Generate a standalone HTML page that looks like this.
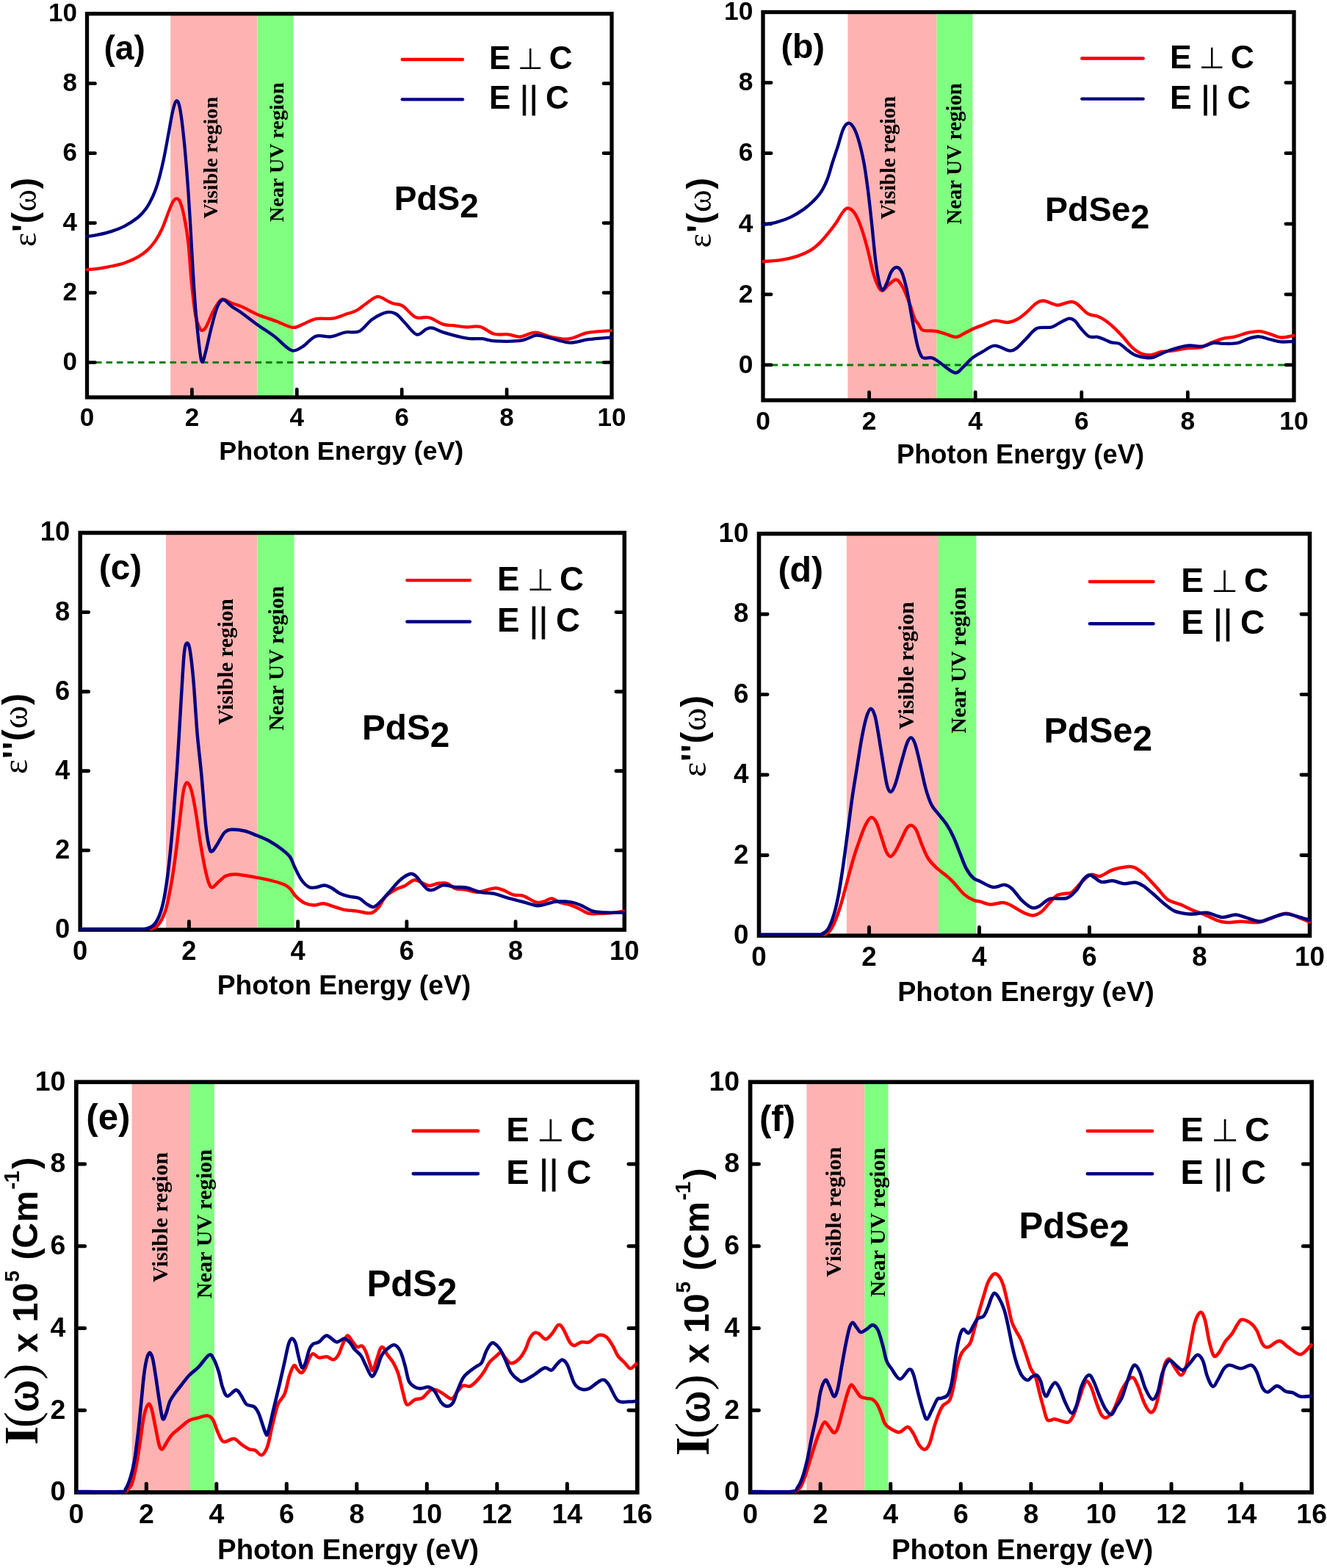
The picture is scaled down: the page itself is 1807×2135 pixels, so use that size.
<!DOCTYPE html><html><head><meta charset="utf-8"><title>Optical properties of PdS2 and PdSe2</title>
<style>html,body{margin:0;padding:0;background:#fff}svg{display:block}.t{font-family:'Liberation Sans', Arial, sans-serif;font-weight:bold;fill:#000}.s{font-family:'Liberation Serif', 'Times New Roman', serif;fill:#000}.n{font-weight:normal}</style></head><body>
<svg width="1807" height="2135" viewBox="0 0 1807 2135">
<rect width="1807" height="2135" fill="#fff"/>
<g id="panel-a"><rect x="232.2" y="18.7" width="118.2" height="522.3" fill="#FFB2B2"/><rect x="350.4" y="18.7" width="49" height="522.3" fill="#80FF80"/><text class="s" font-weight="bold" font-size="28.25" transform="translate(295.9 297.4) rotate(-90)">Visible region</text><text class="s" font-weight="bold" font-size="28.25" transform="translate(385.6 302.2) rotate(-90)">Near UV region</text><line x1="130" y1="493.52" x2="821" y2="493.52" stroke="#008000" stroke-width="3" stroke-dasharray="8.5 6"/><path d="M261.4 541V530M404.3 541V530M547.2 541V530M690.1 541V530M118.5 493.52H129.5M833 493.52H822M118.5 398.55H129.5M833 398.55H822M118.5 303.59H129.5M833 303.59H822M118.5 208.63H129.5M833 208.63H822M118.5 113.66H129.5M833 113.66H822" stroke="#000" stroke-width="4.7" stroke-linecap="round" fill="none"/><rect x="118.5" y="18.7" width="714.5" height="522.3" fill="none" stroke="#000" stroke-width="5.3"/><path d="M118.6 367.1C121.03 366.88 127.72 366.57 133.2 365.8C138.68 365.03 145.42 363.8 151.5 362.5C157.58 361.2 163.63 360.12 169.7 358C175.77 355.88 182.73 352.7 187.9 349.8C193.07 346.9 196.75 344.25 200.7 340.6C204.65 336.95 208.27 332.75 211.6 327.9C214.93 323.05 217.67 318.18 220.7 311.5C223.73 304.82 227.37 293.88 229.8 287.8C232.23 281.72 233.53 277.9 235.3 275C237.07 272.1 238.73 270.4 240.4 270.4C242.07 270.4 243.57 270.9 245.3 275C247.03 279.1 248.97 285.88 250.8 295C252.63 304.12 254.63 314.8 256.3 329.7C257.97 344.6 259.13 367.68 260.8 384.4C262.47 401.12 264.47 419.67 266.3 430C268.13 440.33 270.28 443.07 271.8 446.4C273.32 449.73 273.88 450.3 275.4 450C276.92 449.7 278.47 448.85 280.9 444.6C283.33 440.35 286.97 430.27 290 424.5C293.03 418.73 296.67 412.8 299.1 410C301.53 407.2 301.87 407.25 304.6 407.7C307.33 408.15 311.27 411 315.5 412.7C319.73 414.4 324.15 415.32 330 417.9C335.85 420.48 342.73 424.88 350.6 428.2C358.47 431.52 369.22 434.85 377.2 437.8C385.18 440.75 392.62 445.28 398.5 445.9C404.38 446.52 407.22 443.47 412.5 441.5C417.78 439.53 423.57 435.4 430.2 434.1C436.83 432.8 445.67 434.68 452.3 433.7C458.93 432.72 464.35 430.1 470 428.2C475.65 426.3 481.28 424.88 486.2 422.3C491.12 419.72 494.83 415.77 499.5 412.7C504.17 409.63 509.28 404.27 514.2 403.9C519.12 403.53 525.32 408.9 529 410.5C532.68 412.1 533.12 412.52 536.3 413.5C539.48 414.48 543.18 413.33 548.1 416.4C553.02 419.47 560.48 429.3 565.8 431.9C571.12 434.5 576.4 431.73 580 432C583.6 432.27 583.47 431.9 587.4 433.5C591.33 435.1 598.7 440 603.6 441.6C608.5 443.2 611.65 442.48 616.8 443.1C621.95 443.72 628.35 445.02 634.5 445.3C640.65 445.58 647.3 443.22 653.7 444.8C660.1 446.38 666.52 453.05 672.9 454.8C679.28 456.55 686.12 454.68 692 455.3C697.88 455.92 702.05 458.95 708.2 458.5C714.35 458.05 722.02 452.6 728.9 452.6C735.78 452.6 741.9 457.02 749.5 458.5C757.1 459.98 766.4 462.35 774.5 461.5C782.6 460.65 791.22 455.12 798.1 453.4C804.98 451.68 810.15 451.75 815.8 451.2C821.45 450.65 829.3 450.28 832 450.1" fill="none" stroke="#FF0000" stroke-width="4.3" stroke-linejoin="round" stroke-linecap="round"/><path d="M118.6 322C121.03 321.62 127.72 320.85 133.2 319.7C138.68 318.55 145.42 317.08 151.5 315.1C157.58 313.12 163.63 310.98 169.7 307.8C175.77 304.62 183.03 299.95 187.9 296C192.77 292.05 195.55 288.82 198.9 284.1C202.25 279.38 205.27 273.78 208 267.7C210.73 261.62 212.88 255.8 215.3 247.6C217.72 239.4 220.08 229.73 222.5 218.5C224.92 207.27 227.67 191.45 229.8 180.2C231.93 168.95 233.53 158.15 235.3 151C237.07 143.85 238.73 137.6 240.4 137.3C242.07 137 243.57 139.92 245.3 149.2C247.03 158.48 249.12 176.6 250.8 193C252.48 209.4 254.03 229.37 255.4 247.6C256.77 265.83 257.8 282.63 259 302.4C260.2 322.17 261.38 346.45 262.6 366.2C263.82 385.95 264.77 402.67 266.3 420.9C267.83 439.13 270.28 463.6 271.8 475.6C273.32 487.6 274.03 492.3 275.4 492.9C276.77 493.5 278.02 486.65 280 479.2C281.98 471.75 284.72 458.23 287.3 448.2C289.88 438.17 292.77 425.68 295.5 419C298.23 412.32 300.37 408.4 303.7 408.1C307.03 407.8 311.12 414.1 315.5 417.2C319.88 420.3 324.15 422.53 330 426.7C335.85 430.87 343.23 436.92 350.6 442.2C357.97 447.48 367.8 453.48 374.2 458.4C380.6 463.32 384.82 468.5 389 471.7C393.18 474.9 395.38 477.6 399.3 477.6C403.22 477.6 407.35 475.02 412.5 471.7C417.65 468.38 423.8 459.92 430.2 457.7C436.6 455.48 444.27 459.27 450.9 458.4C457.53 457.53 463.62 453.72 470 452.5C476.38 451.28 483.05 454.05 489.2 451.1C495.35 448.15 500.77 439.1 506.9 434.8C513.03 430.5 520.6 426.52 526 425.3C531.4 424.08 535.12 425.17 539.3 427.5C543.48 429.83 546.43 434.63 551.1 439.3C555.77 443.97 562.38 454.03 567.3 455.5C572.22 456.97 577.02 449.57 580.6 448.1C584.18 446.63 584.48 445.82 588.8 446.7C593.12 447.58 598.63 451.07 606.5 453.4C614.37 455.73 627.65 459.4 636 460.7C644.35 462 650.22 460.58 656.6 461.2C662.98 461.82 665.45 463.98 674.3 464.4C683.15 464.82 700.37 465 709.7 463.7C719.03 462.4 723.67 457.15 730.3 456.6C736.93 456.05 741.88 458.73 749.5 460.4C757.12 462.07 767.4 466.3 776 466.6C784.6 466.9 791.77 463.42 801.1 462.2C810.43 460.98 826.85 459.78 832 459.3" fill="none" stroke="#000080" stroke-width="4.3" stroke-linejoin="round" stroke-linecap="round"/><text class="t" font-size="35" x="118.5" y="580.2" text-anchor="middle">0</text><text class="t" font-size="35" x="261.4" y="580.2" text-anchor="middle">2</text><text class="t" font-size="35" x="404.3" y="580.2" text-anchor="middle">4</text><text class="t" font-size="35" x="547.2" y="580.2" text-anchor="middle">6</text><text class="t" font-size="35" x="690.1" y="580.2" text-anchor="middle">8</text><text class="t" font-size="35" x="833" y="580.2" text-anchor="middle">10</text><text class="t" font-size="35" x="105" y="504.12" text-anchor="end">0</text><text class="t" font-size="35" x="105" y="409.15" text-anchor="end">2</text><text class="t" font-size="35" x="105" y="314.19" text-anchor="end">4</text><text class="t" font-size="35" x="105" y="219.23" text-anchor="end">6</text><text class="t" font-size="35" x="105" y="124.26" text-anchor="end">8</text><text class="t" font-size="35" x="105" y="29.3" text-anchor="end">10</text><text class="t" font-size="35.9" x="298.3" y="625.8">Photon Energy (eV)</text><line x1="547.7" y1="81" x2="630.1" y2="81" stroke="#FF0000" stroke-width="4.3" stroke-linecap="round"/><line x1="547.7" y1="135.4" x2="630.1" y2="135.4" stroke="#000080" stroke-width="4.3" stroke-linecap="round"/><text class="t" font-size="44" y="93.9"><tspan x="666">E</tspan><tspan x="705.1" font-family="'DejaVu Sans', sans-serif" class="n" font-size="40">⊥</tspan><tspan x="747.8">C</tspan></text><text class="t" font-size="44" y="148.3"><tspan x="666">E</tspan><tspan x="708.25" class="n" stroke="#000" stroke-width="0.9">|</tspan><tspan x="720.95" class="n" stroke="#000" stroke-width="0.9">|</tspan><tspan x="743">C</tspan></text><text class="t" font-size="46" x="141.51" y="80.77">(a)</text><text class="t" font-size="46" x="536.8" y="285.8">PdS<tspan dy="10.2">2</tspan></text><text class="t" font-size="46" letter-spacing="0.75" transform="translate(48.8 336) rotate(-90)"><tspan class="s n">ε</tspan>'(<tspan class="s n">ω</tspan>)</text></g>
<g id="panel-b"><rect x="1154.4" y="16.5" width="121" height="528.5" fill="#FFB2B2"/><rect x="1275.4" y="16.5" width="48.9" height="528.5" fill="#80FF80"/><text class="s" font-weight="bold" font-size="28.59" transform="translate(1218.8 298.5) rotate(-90)">Visible region</text><text class="s" font-weight="bold" font-size="28.59" transform="translate(1309.1 305.4) rotate(-90)">Near UV region</text><line x1="1050.64" y1="496.95" x2="1749.86" y2="496.95" stroke="#008000" stroke-width="3.04" stroke-dasharray="8.6 6.07"/><path d="M1183.6 545V533.87M1328.2 545V533.87M1472.8 545V533.87M1617.4 545V533.87M1039 496.95H1050.13M1762 496.95H1750.87M1039 400.86H1050.13M1762 400.86H1750.87M1039 304.77H1050.13M1762 304.77H1750.87M1039 208.68H1050.13M1762 208.68H1750.87M1039 112.59H1050.13M1762 112.59H1750.87" stroke="#000" stroke-width="4.76" stroke-linecap="round" fill="none"/><rect x="1039" y="16.5" width="723" height="528.5" fill="none" stroke="#000" stroke-width="5.36"/><path d="M1039.6 356C1043.43 355.7 1054.92 355.38 1062.6 354.2C1070.28 353.02 1078.88 351.12 1085.7 348.9C1092.52 346.68 1098.47 343.87 1103.5 340.9C1108.53 337.93 1111.77 335.1 1115.9 331.1C1120.03 327.1 1124.45 321.63 1128.3 316.9C1132.15 312.17 1135.73 307.43 1139 302.7C1142.27 297.97 1145.3 291.7 1147.9 288.5C1150.5 285.3 1151.95 283.2 1154.6 283.5C1157.25 283.8 1160.78 285.92 1163.8 290.3C1166.82 294.68 1169.73 301.52 1172.7 309.8C1175.67 318.08 1178.93 329.93 1181.6 340C1184.27 350.07 1186.48 362.22 1188.7 370.2C1190.92 378.18 1192.83 383.62 1194.9 387.9C1196.97 392.18 1198.58 395.9 1201.1 395.9C1203.62 395.9 1206.73 390.42 1210 387.9C1213.27 385.38 1217.45 380.2 1220.7 380.8C1223.95 381.4 1226.55 386.17 1229.5 391.5C1232.45 396.83 1235.73 405.7 1238.4 412.8C1241.07 419.9 1243.57 429.5 1245.5 434.1C1247.43 438.7 1248.27 437.87 1250 440.4C1251.73 442.93 1253.45 447.63 1255.9 449.3C1258.35 450.97 1261.5 450.12 1264.7 450.4C1267.9 450.68 1271.42 450.33 1275.1 451C1278.78 451.67 1282.38 453.08 1286.8 454.4C1291.22 455.72 1297.17 459.02 1301.6 458.9C1306.03 458.78 1309.23 455.67 1313.4 453.7C1317.57 451.73 1322.43 448.95 1326.6 447.1C1330.77 445.25 1333.73 444.33 1338.4 442.6C1343.07 440.87 1348.95 437.3 1354.6 436.7C1360.25 436.1 1367.13 439.37 1372.3 439C1377.47 438.63 1381.42 436.72 1385.6 434.5C1389.78 432.28 1393.23 429.25 1397.4 425.7C1401.57 422.15 1406.67 415.9 1410.6 413.2C1414.53 410.5 1417.07 409.38 1421 409.5C1424.93 409.62 1430.77 412.92 1434.2 413.9C1437.63 414.88 1437.67 415.88 1441.6 415.4C1445.53 414.92 1453.62 411.25 1457.8 411C1461.98 410.75 1462.77 411.2 1466.7 413.9C1470.63 416.6 1476.73 424.38 1481.4 427.2C1486.07 430.02 1490.77 429.3 1494.7 430.8C1498.63 432.3 1501.07 433.45 1505 436.2C1508.93 438.95 1514.12 443.37 1518.3 447.3C1522.48 451.23 1526.18 455.5 1530.1 459.8C1534.02 464.1 1537.88 469.53 1541.8 473.1C1545.72 476.67 1549.42 479.48 1553.6 481.2C1557.78 482.92 1562.23 483.77 1566.9 483.4C1571.57 483.03 1576.68 479.98 1581.6 479C1586.52 478.02 1590.5 478.3 1596.4 477.5C1602.3 476.7 1610.62 474.93 1617 474.2C1623.38 473.47 1629.78 474.15 1634.7 473.1C1639.62 472.05 1641.58 469.87 1646.5 467.9C1651.42 465.93 1658.3 462.9 1664.2 461.3C1670.1 459.7 1675.77 459.73 1681.9 458.3C1688.03 456.87 1695.35 453.88 1701 452.7C1706.65 451.52 1711.13 450.88 1715.8 451.2C1720.47 451.52 1724.33 453.22 1729 454.6C1733.67 455.98 1738.38 459.13 1743.8 459.5C1749.22 459.87 1758.55 457.25 1761.5 456.8" fill="none" stroke="#FF0000" stroke-width="4.35" stroke-linejoin="round" stroke-linecap="round"/><path d="M1039.6 305.9C1042.55 305.37 1051.1 304.42 1057.3 302.7C1063.5 300.98 1070.58 298.57 1076.8 295.6C1083.02 292.63 1089.57 288.45 1094.6 284.9C1099.63 281.35 1103.15 278.13 1107 274.3C1110.85 270.47 1114.43 266.93 1117.7 261.9C1120.97 256.87 1123.93 250.92 1126.6 244.1C1129.27 237.28 1131.33 228.4 1133.7 221C1136.07 213.6 1138.43 207.1 1140.8 199.7C1143.17 192.3 1145.6 181.92 1147.9 176.6C1150.2 171.28 1152.23 168.38 1154.6 167.8C1156.97 167.22 1159.67 169.27 1162.1 173.1C1164.53 176.93 1166.83 182.82 1169.2 190.8C1171.57 198.78 1174.23 210.05 1176.3 221C1178.37 231.95 1179.83 242.88 1181.6 256.5C1183.37 270.12 1185.13 286.42 1186.9 302.7C1188.67 318.98 1190.42 340.28 1192.2 354.2C1193.98 368.12 1195.97 379.45 1197.6 386.2C1199.23 392.95 1200.38 394.7 1202 394.7C1203.62 394.7 1205.37 390.28 1207.3 386.2C1209.23 382.12 1211.37 373.9 1213.6 370.2C1215.83 366.5 1218.33 364 1220.7 364C1223.07 364 1225.43 365.03 1227.8 370.2C1230.17 375.37 1232.53 384.35 1234.9 395C1237.27 405.65 1239.63 421.67 1242 434.1C1244.37 446.53 1247.03 461.18 1249.1 469.6C1251.17 478.02 1252.78 481.6 1254.4 484.6C1256.02 487.6 1256.33 487.15 1258.8 487.6C1261.27 488.05 1265.75 486.32 1269.2 487.3C1272.65 488.28 1274.35 490.13 1279.5 493.5C1284.65 496.87 1294.7 506.52 1300.1 507.5C1305.5 508.48 1307.97 502.72 1311.9 499.4C1315.83 496.08 1319.28 491.05 1323.7 487.6C1328.12 484.15 1333.25 481.53 1338.4 478.7C1343.55 475.87 1348.45 470.78 1354.6 470.6C1360.75 470.42 1370.13 477.22 1375.3 477.6C1380.47 477.98 1381.92 475.65 1385.6 472.9C1389.28 470.15 1392.98 465.4 1397.4 461.1C1401.82 456.8 1406.45 449.68 1412.1 447.1C1417.75 444.52 1426.38 446.72 1431.3 445.6C1436.22 444.48 1437.67 442.37 1441.6 440.4C1445.53 438.43 1451.22 434.42 1454.9 433.8C1458.58 433.18 1461 434.62 1463.7 436.7C1466.4 438.78 1467.9 442.73 1471.1 446.3C1474.3 449.87 1478.97 456.02 1482.9 458.1C1486.83 460.18 1491.02 458.03 1494.7 458.8C1498.38 459.57 1501.82 461.43 1505 462.7C1508.18 463.97 1510.6 465.53 1513.8 466.4C1517 467.27 1520.75 466.3 1524.2 467.9C1527.65 469.5 1530.82 473.37 1534.5 476C1538.18 478.63 1541.88 481.85 1546.3 483.7C1550.72 485.55 1556.83 486.67 1561 487.1C1565.17 487.53 1566.88 487.65 1571.3 486.3C1575.72 484.95 1581.85 481.2 1587.5 479C1593.15 476.8 1599.78 474.53 1605.2 473.1C1610.62 471.67 1614.6 470.65 1620 470.4C1625.4 470.15 1632.2 472.18 1637.6 471.6C1643 471.02 1647.48 467.52 1652.4 466.9C1657.32 466.28 1661.7 467.85 1667.1 467.9C1672.5 467.95 1679.4 468.3 1684.8 467.2C1690.2 466.1 1694.58 462.78 1699.5 461.3C1704.42 459.82 1709.38 458.18 1714.3 458.3C1719.22 458.42 1724.08 460.82 1729 462C1733.92 463.18 1738.38 464.9 1743.8 465.4C1749.22 465.9 1758.55 465.07 1761.5 465" fill="none" stroke="#000080" stroke-width="4.35" stroke-linejoin="round" stroke-linecap="round"/><text class="t" font-size="35.42" x="1039" y="584.67" text-anchor="middle">0</text><text class="t" font-size="35.42" x="1183.6" y="584.67" text-anchor="middle">2</text><text class="t" font-size="35.42" x="1328.2" y="584.67" text-anchor="middle">4</text><text class="t" font-size="35.42" x="1472.8" y="584.67" text-anchor="middle">6</text><text class="t" font-size="35.42" x="1617.4" y="584.67" text-anchor="middle">8</text><text class="t" font-size="35.42" x="1762" y="584.67" text-anchor="middle">10</text><text class="t" font-size="35.42" x="1025.34" y="507.68" text-anchor="end">0</text><text class="t" font-size="35.42" x="1025.34" y="411.59" text-anchor="end">2</text><text class="t" font-size="35.42" x="1025.34" y="315.5" text-anchor="end">4</text><text class="t" font-size="35.42" x="1025.34" y="219.41" text-anchor="end">6</text><text class="t" font-size="35.42" x="1025.34" y="123.32" text-anchor="end">8</text><text class="t" font-size="35.42" x="1025.34" y="27.23" text-anchor="end">10</text><text class="t" font-size="36.33" x="1220.94" y="630.81">Photon Energy (eV)</text><line x1="1473.31" y1="79.54" x2="1556.69" y2="79.54" stroke="#FF0000" stroke-width="4.35" stroke-linecap="round"/><line x1="1473.31" y1="134.59" x2="1556.69" y2="134.59" stroke="#000080" stroke-width="4.35" stroke-linecap="round"/><text class="t" font-size="44.52" y="92.59"><tspan x="1593.01">E</tspan><tspan x="1632.58" font-family="'DejaVu Sans', sans-serif" class="n" font-size="40.48">⊥</tspan><tspan x="1675.79">C</tspan></text><text class="t" font-size="44.52" y="147.64"><tspan x="1593.01">E</tspan><tspan x="1635.77" class="n" stroke="#000" stroke-width="0.9">|</tspan><tspan x="1648.62" class="n" stroke="#000" stroke-width="0.9">|</tspan><tspan x="1670.93">C</tspan></text><text class="t" font-size="46.55" x="1063.57" y="79.48">(b)</text><text class="t" font-size="46.55" x="1422.96" y="300.8">PdSe<tspan dy="10.32">2</tspan></text><text class="t" font-size="46.55" letter-spacing="0.76" transform="translate(967.5 337.4) rotate(-90)"><tspan class="s n">ε</tspan>'(<tspan class="s n">ω</tspan>)</text></g>
<g id="panel-c"><rect x="226" y="725.5" width="124.5" height="540.5" fill="#FFB2B2"/><rect x="350.5" y="725.5" width="50" height="540.5" fill="#80FF80"/><text class="s" font-weight="bold" font-size="29.3" transform="translate(316.7 986.9) rotate(-90)">Visible region</text><text class="s" font-weight="bold" font-size="29.3" transform="translate(386.4 994.8) rotate(-90)">Near UV region</text><path d="M257.42 1266V1254.59M405.64 1266V1254.59M553.86 1266V1254.59M702.08 1266V1254.59M109.2 1157.9H120.61M850.3 1157.9H838.89M109.2 1049.8H120.61M850.3 1049.8H838.89M109.2 941.7H120.61M850.3 941.7H838.89M109.2 833.6H120.61M850.3 833.6H838.89" stroke="#000" stroke-width="4.87" stroke-linecap="round" fill="none"/><rect x="109.2" y="725.5" width="741.1" height="540.5" fill="none" stroke="#000" stroke-width="5.5"/><path d="M205.6 1265C207.23 1264.07 212.12 1263.62 215.4 1259.4C218.68 1255.18 222.35 1248.88 225.3 1239.7C228.25 1230.52 230.82 1216.75 233.1 1204.3C235.38 1191.85 237.03 1179.75 239 1165C240.97 1150.25 243.08 1130.57 244.9 1115.8C246.72 1101.03 248.25 1084.77 249.9 1076.4C251.55 1068.03 253 1065.6 254.8 1065.6C256.6 1065.6 258.73 1069.68 260.7 1076.4C262.67 1083.12 264.63 1094.42 266.6 1105.9C268.57 1117.38 270.53 1133.17 272.5 1145.3C274.47 1157.43 276.43 1169.2 278.4 1178.7C280.37 1188.2 282.5 1197.38 284.3 1202.3C286.1 1207.22 286.9 1208.53 289.2 1208.2C291.5 1207.87 294.98 1202.92 298.1 1200.3C301.22 1197.68 303.97 1194.13 307.9 1192.5C311.83 1190.87 315.13 1190.17 321.7 1190.5C328.27 1190.83 339.77 1193.18 347.3 1194.5C354.83 1195.82 360.35 1196.77 366.9 1198.4C373.45 1200.03 381.92 1202.37 386.6 1204.3C391.28 1206.23 392.3 1207.32 395 1210C397.7 1212.68 399.53 1217.15 402.8 1220.4C406.07 1223.65 410.47 1227.5 414.6 1229.5C418.73 1231.5 423.27 1232.28 427.6 1232.4C431.93 1232.52 436.25 1229.92 440.6 1230.2C444.95 1230.48 449.13 1232.7 453.7 1234.1C458.27 1235.5 462.57 1237.52 468 1238.6C473.43 1239.68 481.08 1239.83 486.3 1240.6C491.52 1241.37 495.83 1242.87 499.3 1243.2C502.77 1243.53 504.48 1243.8 507.1 1242.6C509.72 1241.4 511.95 1239.7 515 1236C518.05 1232.3 521.5 1224.52 525.4 1220.4C529.3 1216.28 534.05 1213.7 538.4 1211.3C542.75 1208.9 547.15 1208.18 551.5 1206C555.85 1203.82 560.17 1198.63 564.5 1198.2C568.83 1197.77 574.02 1202.1 577.5 1203.4C580.98 1204.7 582.13 1206.1 585.4 1206C588.67 1205.9 593.2 1203.33 597.1 1202.8C601 1202.27 604.98 1201.6 608.8 1202.8C612.62 1204 615.93 1208.58 620 1210C624.07 1211.42 628.15 1210.48 633.2 1211.3C638.25 1212.12 645.27 1214.85 650.3 1214.9C655.33 1214.95 659.25 1212.55 663.4 1211.6C667.55 1210.65 671.47 1209.1 675.2 1209.2C678.93 1209.3 681.85 1210.67 685.8 1212.2C689.75 1213.73 694.52 1217.15 698.9 1218.4C703.28 1219.65 706.83 1217.98 712.1 1219.7C717.37 1221.42 725.68 1227.42 730.5 1228.7C735.32 1229.98 737.5 1228.28 741 1227.4C744.5 1226.52 748 1223.18 751.5 1223.4C755 1223.62 757.62 1227.17 762 1228.7C766.38 1230.23 773.18 1231.07 777.8 1232.6C782.42 1234.13 785.75 1236.03 789.7 1237.9C793.65 1239.77 796.9 1242.82 801.5 1243.8C806.1 1244.78 812.48 1243.87 817.3 1243.8C822.12 1243.73 825.13 1243.9 830.4 1243.4C835.67 1242.9 845.82 1241.23 848.9 1240.8" fill="none" stroke="#FF0000" stroke-width="4.46" stroke-linejoin="round" stroke-linecap="round"/><path d="M111 1265C122.5 1265 165.22 1265.1 180 1265C194.78 1264.9 194.78 1265.33 199.7 1264.4C204.62 1263.47 206.55 1262.53 209.5 1259.4C212.45 1256.27 215.1 1251.5 217.4 1245.6C219.7 1239.7 221.33 1234.17 223.3 1224C225.27 1213.83 227.23 1201 229.2 1184.6C231.17 1168.2 233.13 1148.55 235.1 1125.6C237.07 1102.65 239.03 1076.42 241 1046.9C242.97 1017.38 245.27 974.73 246.9 948.5C248.53 922.27 249.55 901.63 250.8 889.5C252.05 877.37 253.08 876.35 254.4 875.7C255.72 875.05 257.17 876.73 258.7 885.6C260.23 894.47 261.97 910.22 263.6 928.9C265.23 947.58 266.68 976.4 268.5 997.7C270.32 1019 272.52 1035.38 274.5 1056.7C276.48 1078.02 278.6 1109.2 280.4 1125.6C282.2 1142 283.83 1149.53 285.3 1155.1C286.77 1160.67 287.4 1159.98 289.2 1159C291 1158.02 293.32 1153.45 296.1 1149.2C298.88 1144.95 302.62 1136.78 305.9 1133.5C309.18 1130.22 311.2 1129.83 315.8 1129.5C320.4 1129.17 327.93 1130.18 333.5 1131.5C339.07 1132.82 343.63 1135.1 349.2 1137.4C354.77 1139.7 361 1142.02 366.9 1145.3C372.8 1148.58 379.92 1153.5 384.6 1157.1C389.28 1160.7 392.18 1162.87 395 1166.9C397.82 1170.93 398.9 1176.08 401.5 1181.3C404.1 1186.52 407.33 1193.75 410.6 1198.2C413.87 1202.65 417.62 1206.37 421.1 1208C424.58 1209.63 428.03 1208.43 431.5 1208C434.97 1207.57 438.63 1205.28 441.9 1205.4C445.17 1205.52 447.62 1206.85 451.1 1208.7C454.58 1210.55 458.68 1214.5 462.8 1216.5C466.92 1218.5 471.45 1219.62 475.8 1220.7C480.15 1221.78 484.98 1221.32 488.9 1223C492.82 1224.68 496.05 1228.8 499.3 1230.8C502.55 1232.8 505.35 1235.43 508.4 1235C511.45 1234.57 513.9 1231.72 517.6 1228.2C521.3 1224.68 526.05 1218.9 530.6 1213.9C535.15 1208.9 540.12 1202.22 544.9 1198.2C549.68 1194.18 555.6 1190.55 559.3 1189.8C563 1189.05 564.5 1191.43 567.1 1193.7C569.7 1195.97 572.3 1200.47 574.9 1203.4C577.5 1206.33 580.08 1209.98 582.7 1211.3C585.32 1212.62 587.12 1212.28 590.6 1211.3C594.08 1210.32 598.7 1205.97 603.6 1205.4C608.5 1204.83 614.63 1207.35 620 1207.9C625.37 1208.45 630.32 1207.6 635.8 1208.7C641.28 1209.8 646.77 1213.15 652.9 1214.5C659.03 1215.85 666.47 1215.53 672.6 1216.8C678.73 1218.07 683.12 1220.23 689.7 1222.1C696.28 1223.97 705.08 1226.13 712.1 1228C719.12 1229.87 726.32 1232.87 731.8 1233.3C737.28 1233.73 740.62 1231.58 745 1230.6C749.38 1229.62 752.63 1227.77 758.1 1227.4C763.57 1227.03 772.32 1227.53 777.8 1228.4C783.28 1229.27 786.17 1230.58 791 1232.6C795.83 1234.62 801.32 1238.85 806.8 1240.5C812.28 1242.15 816.88 1242.17 823.9 1242.5C830.92 1242.83 844.73 1242.5 848.9 1242.5" fill="none" stroke="#000080" stroke-width="4.46" stroke-linejoin="round" stroke-linecap="round"/><text class="t" font-size="36.3" x="109.2" y="1306.66" text-anchor="middle">0</text><text class="t" font-size="36.3" x="257.42" y="1306.66" text-anchor="middle">2</text><text class="t" font-size="36.3" x="405.64" y="1306.66" text-anchor="middle">4</text><text class="t" font-size="36.3" x="553.86" y="1306.66" text-anchor="middle">6</text><text class="t" font-size="36.3" x="702.08" y="1306.66" text-anchor="middle">8</text><text class="t" font-size="36.3" x="850.3" y="1306.66" text-anchor="middle">10</text><text class="t" font-size="36.3" x="95.2" y="1276.99" text-anchor="end">0</text><text class="t" font-size="36.3" x="95.2" y="1168.89" text-anchor="end">2</text><text class="t" font-size="36.3" x="95.2" y="1060.79" text-anchor="end">4</text><text class="t" font-size="36.3" x="95.2" y="952.69" text-anchor="end">6</text><text class="t" font-size="36.3" x="95.2" y="844.59" text-anchor="end">8</text><text class="t" font-size="36.3" x="95.2" y="736.49" text-anchor="end">10</text><text class="t" font-size="37.24" x="295.69" y="1353.96">Photon Energy (eV)</text><line x1="554.38" y1="790.12" x2="639.85" y2="790.12" stroke="#FF0000" stroke-width="4.46" stroke-linecap="round"/><line x1="554.38" y1="846.54" x2="639.85" y2="846.54" stroke="#000080" stroke-width="4.46" stroke-linecap="round"/><text class="t" font-size="45.64" y="803.5"><tspan x="677.08">E</tspan><tspan x="717.64" font-family="'DejaVu Sans', sans-serif" class="n" font-size="41.49">⊥</tspan><tspan x="761.93">C</tspan></text><text class="t" font-size="45.64" y="859.92"><tspan x="677.08">E</tspan><tspan x="720.91" class="n" stroke="#000" stroke-width="0.9">|</tspan><tspan x="734.08" class="n" stroke="#000" stroke-width="0.9">|</tspan><tspan x="756.95">C</tspan></text><text class="t" font-size="47.71" x="134.8" y="789.45">(c)</text><text class="t" font-size="47.71" x="492.98" y="1006.9">PdS<tspan dy="10.58">2</tspan></text><text class="t" font-size="47.71" letter-spacing="0.78" transform="translate(37.3 1054) rotate(-90)"><tspan class="s n">ε</tspan>''(<tspan class="s n">ω</tspan>)</text></g>
<g id="panel-d"><rect x="1152.9" y="726.7" width="125" height="547.3" fill="#FFB2B2"/><rect x="1277.9" y="726.7" width="51.5" height="547.3" fill="#80FF80"/><text class="s" font-weight="bold" font-size="29.65" transform="translate(1243.8 993.3) rotate(-90)">Visible region</text><text class="s" font-weight="bold" font-size="29.65" transform="translate(1314.5 998.5) rotate(-90)">Near UV region</text><path d="M1183.5 1274V1262.45M1333.5 1274V1262.45M1483.5 1274V1262.45M1633.5 1274V1262.45M1033.5 1164.54H1045.05M1783.5 1164.54H1771.95M1033.5 1055.08H1045.05M1783.5 1055.08H1771.95M1033.5 945.62H1045.05M1783.5 945.62H1771.95M1033.5 836.16H1045.05M1783.5 836.16H1771.95" stroke="#000" stroke-width="4.93" stroke-linecap="round" fill="none"/><rect x="1033.5" y="726.7" width="750" height="547.3" fill="none" stroke="#000" stroke-width="5.56"/><path d="M1122.7 1272.5C1124.02 1271.53 1127.97 1270.3 1130.6 1266.7C1133.23 1263.1 1135.87 1257.5 1138.5 1250.9C1141.13 1244.3 1143.75 1236.08 1146.4 1227.1C1149.05 1218.12 1151.75 1206.77 1154.4 1197C1157.05 1187.23 1159.67 1177.2 1162.3 1168.5C1164.93 1159.8 1167.57 1152.18 1170.2 1144.8C1172.83 1137.42 1175.47 1129.48 1178.1 1124.2C1180.73 1118.92 1183.48 1113.9 1186 1113.1C1188.52 1112.3 1190.82 1114.92 1193.2 1119.4C1195.58 1123.88 1198.07 1133.4 1200.3 1140C1202.53 1146.6 1204.55 1154.63 1206.6 1159C1208.65 1163.37 1210.48 1166.2 1212.6 1166.2C1214.72 1166.2 1216.87 1162.83 1219.3 1159C1221.73 1155.17 1224.57 1148.47 1227.2 1143.2C1229.83 1137.93 1232.77 1130.62 1235.1 1127.4C1237.43 1124.18 1239.08 1123.38 1241.2 1123.9C1243.32 1124.42 1245.38 1125.97 1247.8 1130.5C1250.22 1135.03 1253.05 1144.77 1255.7 1151.1C1258.35 1157.43 1260.53 1163.48 1263.7 1168.5C1266.87 1173.52 1270.22 1176.97 1274.7 1181.2C1279.18 1185.43 1286.37 1190.2 1290.6 1193.9C1294.83 1197.6 1296.4 1199.45 1300.1 1203.4C1303.8 1207.35 1308.58 1213.92 1312.8 1217.6C1317.02 1221.28 1321.7 1223.83 1325.4 1225.5C1329.1 1227.17 1331.23 1226.6 1335 1227.6C1338.77 1228.6 1342.78 1231.28 1348 1231.5C1353.22 1231.72 1361.3 1228.58 1366.3 1228.9C1371.3 1229.22 1373.43 1231.12 1378 1233.4C1382.57 1235.68 1388.92 1240.42 1393.7 1242.6C1398.48 1244.78 1402.58 1246.72 1406.7 1246.5C1410.82 1246.28 1414.7 1244.13 1418.4 1241.3C1422.1 1238.47 1425.42 1233.2 1428.9 1229.5C1432.38 1225.8 1435.4 1221.27 1439.3 1219.1C1443.2 1216.93 1448.82 1217.27 1452.3 1216.5C1455.78 1215.73 1456.93 1216.88 1460.2 1214.5C1463.47 1212.12 1467.78 1206.1 1471.9 1202.2C1476.02 1198.3 1480.55 1192.63 1484.9 1191.1C1489.25 1189.57 1493 1194.1 1498 1193C1503 1191.9 1508.38 1186.67 1514.9 1184.5C1521.42 1182.33 1531.88 1180.43 1537.1 1180C1542.32 1179.57 1542.95 1180.38 1546.2 1181.9C1549.45 1183.42 1554.3 1187.38 1556.6 1189.1C1558.9 1190.82 1556.83 1188.87 1560 1192.2C1563.17 1195.53 1570.6 1203.67 1575.6 1209.1C1580.6 1214.53 1584.57 1221 1590 1224.8C1595.43 1228.6 1602.33 1229.4 1608.2 1231.9C1614.07 1234.4 1619.77 1237.52 1625.2 1239.8C1630.63 1242.08 1635.37 1243.33 1640.8 1245.6C1646.23 1247.87 1652.8 1251.67 1657.8 1253.4C1662.8 1255.13 1665.37 1255.78 1670.8 1256C1676.23 1256.22 1683.23 1254.7 1690.4 1254.7C1697.57 1254.7 1707.28 1256.65 1713.8 1256C1720.32 1255.35 1723.4 1252.85 1729.5 1250.8C1735.6 1248.75 1744.32 1244.13 1750.4 1243.7C1756.48 1243.27 1760.57 1246.25 1766 1248.2C1771.43 1250.15 1780.17 1254.2 1783 1255.4" fill="none" stroke="#FF0000" stroke-width="4.51" stroke-linejoin="round" stroke-linecap="round"/><path d="M1036 1272.5C1048.33 1272.5 1096.08 1272.67 1110 1272.5C1123.92 1272.33 1116.6 1272.73 1119.5 1271.5C1122.4 1270.27 1124.77 1269.33 1127.4 1265.1C1130.03 1260.87 1132.92 1253.75 1135.3 1246.1C1137.68 1238.45 1139.58 1230.28 1141.7 1219.2C1143.82 1208.12 1145.88 1194.12 1148 1179.6C1150.12 1165.08 1152.28 1147.93 1154.4 1132.1C1156.52 1116.27 1158.6 1099.12 1160.7 1084.6C1162.8 1070.08 1164.88 1058.2 1167 1045C1169.12 1031.8 1171.28 1016.75 1173.4 1005.4C1175.52 994.05 1177.65 983.63 1179.7 976.9C1181.75 970.17 1183.72 965.27 1185.7 965C1187.68 964.73 1189.7 968.57 1191.6 975.3C1193.5 982.03 1195.12 993.78 1197.1 1005.4C1199.08 1017.02 1201.65 1034.18 1203.5 1045C1205.35 1055.82 1206.62 1064.75 1208.2 1070.3C1209.78 1075.85 1211.15 1078.82 1213 1078.3C1214.85 1077.78 1216.93 1073.8 1219.3 1067.2C1221.67 1060.6 1224.57 1047.93 1227.2 1038.7C1229.83 1029.47 1232.85 1017.48 1235.1 1011.8C1237.35 1006.12 1238.85 1004.35 1240.7 1004.6C1242.55 1004.85 1244.22 1007.62 1246.2 1013.3C1248.18 1018.98 1250.22 1028.67 1252.6 1038.7C1254.98 1048.73 1257.87 1064 1260.5 1073.5C1263.13 1083 1265.5 1089.88 1268.4 1095.7C1271.3 1101.52 1274.47 1103.92 1277.9 1108.4C1281.33 1112.88 1285.57 1117.33 1289 1122.6C1292.43 1127.87 1295.33 1133.13 1298.5 1140C1301.67 1146.87 1305.1 1156.67 1308 1163.8C1310.9 1170.93 1313 1177.52 1315.9 1182.8C1318.8 1188.08 1322.22 1192.6 1325.4 1195.5C1328.58 1198.4 1330.57 1198.12 1335 1200.2C1339.43 1202.28 1346.57 1207.23 1352 1208C1357.43 1208.77 1363.27 1204.47 1367.6 1204.8C1371.93 1205.13 1374.08 1206.53 1378 1210C1381.92 1213.47 1386.53 1221.27 1391.1 1225.6C1395.67 1229.93 1401.28 1234.7 1405.4 1236C1409.52 1237.3 1411.67 1235.45 1415.8 1233.4C1419.93 1231.35 1424.12 1225.43 1430.2 1223.7C1436.28 1221.97 1446.43 1224.85 1452.3 1223C1458.17 1221.15 1461.48 1216.95 1465.4 1212.6C1469.32 1208.25 1472.55 1200.38 1475.8 1196.9C1479.05 1193.42 1480.98 1191.05 1484.9 1191.7C1488.82 1192.35 1494.3 1199.53 1499.3 1200.8C1504.3 1202.07 1509.68 1198.9 1514.9 1199.3C1520.12 1199.7 1525.38 1202.83 1530.6 1203.2C1535.82 1203.57 1541.87 1201.02 1546.2 1201.5C1550.53 1201.98 1554.3 1204.93 1556.6 1206.1C1558.9 1207.27 1557.27 1206.27 1560 1208.5C1562.73 1210.73 1568.65 1215.7 1573 1219.5C1577.35 1223.3 1581.75 1227.82 1586.1 1231.3C1590.45 1234.78 1594.75 1238.33 1599.1 1240.4C1603.45 1242.47 1607.85 1243 1612.2 1243.7C1616.55 1244.4 1620 1244.75 1625.2 1244.6C1630.4 1244.45 1636.88 1242.08 1643.4 1242.8C1649.92 1243.52 1657.77 1248.43 1664.3 1248.9C1670.83 1249.37 1676.52 1245.28 1682.6 1245.6C1688.68 1245.92 1695.15 1249.32 1700.8 1250.8C1706.45 1252.28 1711.28 1254.72 1716.5 1254.5C1721.72 1254.28 1726.45 1251.2 1732.1 1249.5C1737.75 1247.8 1744.75 1244.62 1750.4 1244.3C1756.05 1243.98 1760.57 1246.18 1766 1247.6C1771.43 1249.02 1780.17 1251.93 1783 1252.8" fill="none" stroke="#000080" stroke-width="4.51" stroke-linejoin="round" stroke-linecap="round"/><text class="t" font-size="36.74" x="1033.5" y="1315.15" text-anchor="middle">0</text><text class="t" font-size="36.74" x="1183.5" y="1315.15" text-anchor="middle">2</text><text class="t" font-size="36.74" x="1333.5" y="1315.15" text-anchor="middle">4</text><text class="t" font-size="36.74" x="1483.5" y="1315.15" text-anchor="middle">6</text><text class="t" font-size="36.74" x="1633.5" y="1315.15" text-anchor="middle">8</text><text class="t" font-size="36.74" x="1783.5" y="1315.15" text-anchor="middle">10</text><text class="t" font-size="36.74" x="1019.33" y="1285.13" text-anchor="end">0</text><text class="t" font-size="36.74" x="1019.33" y="1175.67" text-anchor="end">2</text><text class="t" font-size="36.74" x="1019.33" y="1066.21" text-anchor="end">4</text><text class="t" font-size="36.74" x="1019.33" y="956.75" text-anchor="end">6</text><text class="t" font-size="36.74" x="1019.33" y="847.29" text-anchor="end">8</text><text class="t" font-size="36.74" x="1019.33" y="737.83" text-anchor="end">10</text><text class="t" font-size="37.68" x="1222.23" y="1363.01">Photon Energy (eV)</text><line x1="1484.02" y1="792.1" x2="1570.52" y2="792.1" stroke="#FF0000" stroke-width="4.51" stroke-linecap="round"/><line x1="1484.02" y1="849.2" x2="1570.52" y2="849.2" stroke="#000080" stroke-width="4.51" stroke-linecap="round"/><text class="t" font-size="46.19" y="805.64"><tspan x="1608.2">E</tspan><tspan x="1649.25" font-family="'DejaVu Sans', sans-serif" class="n" font-size="41.99">⊥</tspan><tspan x="1694.07">C</tspan></text><text class="t" font-size="46.19" y="862.74"><tspan x="1608.2">E</tspan><tspan x="1652.55" class="n" stroke="#000" stroke-width="0.9">|</tspan><tspan x="1665.88" class="n" stroke="#000" stroke-width="0.9">|</tspan><tspan x="1689.03">C</tspan></text><text class="t" font-size="48.29" x="1059.46" y="792.27">(d)</text><text class="t" font-size="48.29" x="1421.54" y="1011.1">PdSe<tspan dy="10.71">2</tspan></text><text class="t" font-size="48.29" letter-spacing="0.79" transform="translate(960.9 1058) rotate(-90)"><tspan class="s n">ε</tspan>''(<tspan class="s n">ω</tspan>)</text></g>
<g id="panel-e"><rect x="179.6" y="1473.3" width="79.6" height="558.7" fill="#FFB2B2"/><rect x="259.2" y="1473.3" width="32.6" height="558.7" fill="#80FF80"/><text class="s" font-weight="bold" font-size="30.21" transform="translate(228 1745.9) rotate(-90)">Visible region</text><text class="s" font-weight="bold" font-size="30.21" transform="translate(287.6 1768) rotate(-90)">Near UV region</text><path d="M199.3 2032V2020.24M294.8 2032V2020.24M390.3 2032V2020.24M485.8 2032V2020.24M581.3 2032V2020.24M676.8 2032V2020.24M772.3 2032V2020.24M103.8 1920.26H115.56M867.8 1920.26H856.04M103.8 1808.52H115.56M867.8 1808.52H856.04M103.8 1696.78H115.56M867.8 1696.78H856.04M103.8 1585.04H115.56M867.8 1585.04H856.04" stroke="#000" stroke-width="5.03" stroke-linecap="round" fill="none"/><rect x="103.8" y="1473.3" width="764" height="558.7" fill="none" stroke="#000" stroke-width="5.67"/><path d="M171.3 2031C172.6 2029.43 176.72 2027.5 179.1 2021.6C181.48 2015.7 183.65 2005.37 185.6 1995.6C187.55 1985.83 189.05 1974.3 190.8 1963C192.55 1951.7 194.25 1936.28 196.1 1927.8C197.95 1919.32 200.17 1913.63 201.9 1912.1C203.63 1910.57 204.87 1913.38 206.5 1918.6C208.13 1923.82 209.97 1935.13 211.7 1943.4C213.43 1951.67 215.38 1963.2 216.9 1968.2C218.42 1973.2 219.28 1973.83 220.8 1973.4C222.32 1972.97 223.82 1968.87 226 1965.6C228.18 1962.33 230.85 1957.28 233.9 1953.8C236.95 1950.32 240.4 1947.95 244.3 1944.7C248.2 1941.45 252.95 1936.68 257.3 1934.3C261.65 1931.92 266.27 1931.53 270.4 1930.4C274.53 1929.27 278.85 1927.07 282.1 1927.5C285.35 1927.93 287.5 1929.27 289.9 1933C292.3 1936.73 294.1 1944.9 296.5 1949.9C298.9 1954.9 300.62 1961.47 304.3 1963C307.98 1964.53 314.48 1958.45 318.6 1959.1C322.72 1959.75 325.52 1964.52 329 1966.9C332.48 1969.28 336.45 1972.1 339.5 1973.4C342.55 1974.7 344.48 1973.4 347.3 1974.7C350.12 1976 353.58 1982.07 356.4 1981.2C359.22 1980.33 361.88 1975.83 364.2 1969.5C366.52 1963.17 367.95 1952.68 370.3 1943.2C372.65 1933.72 375.42 1920.15 378.3 1912.6C381.18 1905.05 384.93 1904.57 387.6 1897.9C390.27 1891.23 392.18 1879.03 394.3 1872.6C396.42 1866.17 398.52 1860.63 400.3 1859.3C402.08 1857.97 403.33 1862.93 405 1864.6C406.67 1866.27 408.53 1869.52 410.3 1869.3C412.07 1869.08 413.82 1866.52 415.6 1863.3C417.38 1860.08 419.22 1853.33 421 1850C422.78 1846.67 424.08 1843.53 426.3 1843.3C428.52 1843.07 431.2 1847.93 434.3 1848.6C437.4 1849.27 441.57 1846.85 444.9 1847.3C448.23 1847.75 451.63 1851.75 454.3 1851.3C456.97 1850.85 458.9 1847.93 460.9 1844.6C462.9 1841.27 464.3 1835.63 466.3 1831.3C468.3 1826.97 470.68 1819.48 472.9 1818.6C475.12 1817.72 477.38 1823.43 479.6 1826C481.82 1828.57 483.98 1832.9 486.2 1834C488.42 1835.1 490.9 1831.5 492.9 1832.6C494.9 1833.7 496.42 1836.6 498.2 1840.6C499.98 1844.6 502.03 1852.37 503.6 1856.6C505.17 1860.83 506.05 1866.88 507.6 1866C509.15 1865.12 511.13 1856.3 512.9 1851.3C514.67 1846.3 516.65 1838.67 518.2 1836C519.75 1833.33 520.65 1833.87 522.2 1835.3C523.75 1836.73 525.28 1841.27 527.5 1844.6C529.72 1847.93 533.05 1851.07 535.5 1855.3C537.95 1859.53 539.97 1863.12 542.2 1870C544.43 1876.88 546.9 1889.5 548.9 1896.6C550.9 1903.7 551.55 1911.05 554.2 1912.6C556.85 1914.15 561.25 1907.45 564.8 1905.9C568.35 1904.35 571.93 1905.52 575.5 1903.3C579.07 1901.08 582.95 1894.33 586.2 1892.6C589.45 1890.87 591.97 1891.93 595 1892.9C598.03 1893.87 601.02 1896.45 604.4 1898.4C607.78 1900.35 612.18 1905.25 615.3 1904.6C618.42 1903.95 620.5 1897.48 623.1 1894.5C625.7 1891.52 628.05 1887.87 630.9 1886.7C633.75 1885.53 637.08 1888.67 640.2 1887.5C643.32 1886.33 646.48 1882.95 649.6 1879.7C652.72 1876.45 656.05 1872.17 658.9 1868C661.75 1863.83 663.83 1858.35 666.7 1854.7C669.57 1851.05 673.5 1848.3 676.1 1846.1C678.7 1843.9 680.23 1840.97 682.3 1841.5C684.37 1842.03 686.17 1846.83 688.5 1849.3C690.83 1851.77 693.18 1856.18 696.3 1856.3C699.42 1856.42 704.08 1853 707.2 1850C710.32 1847 712.65 1842.85 715 1838.3C717.35 1833.75 719.22 1826.58 721.3 1822.7C723.38 1818.82 725.43 1816.17 727.5 1815C729.57 1813.83 731.1 1814.28 733.7 1815.7C736.3 1817.12 739.98 1823.62 743.1 1823.5C746.22 1823.38 749.55 1818.25 752.4 1815C755.25 1811.75 757.85 1805.05 760.2 1804C762.55 1802.95 763.9 1804.8 766.5 1808.7C769.1 1812.6 773.2 1823.5 775.8 1827.4C778.4 1831.3 779.5 1832.1 782.1 1832.1C784.7 1832.1 788.03 1828.18 791.4 1827.4C794.77 1826.62 798.4 1828.95 802.3 1827.4C806.2 1825.85 810.9 1819.27 814.8 1818.1C818.7 1816.93 822.32 1817.8 825.7 1820.4C829.08 1823 832.5 1829.42 835.1 1833.7C837.7 1837.98 838.72 1842.47 841.3 1846.1C843.88 1849.73 847.75 1852.63 850.6 1855.5C853.45 1858.37 855.8 1863.03 858.4 1863.3C861 1863.57 864.9 1858.13 866.2 1857.1" fill="none" stroke="#FF0000" stroke-width="4.6" stroke-linejoin="round" stroke-linecap="round"/><path d="M106 2031C115.58 2031 152.62 2031.68 163.5 2031C174.38 2030.32 168.92 2030.2 171.3 2026.9C173.68 2023.6 175.85 2017.52 177.8 2011.2C179.75 2004.88 181.27 1999.22 183 1989C184.73 1978.78 186.67 1962.93 188.2 1949.9C189.73 1936.87 190.88 1923.83 192.2 1910.8C193.52 1897.77 194.8 1881.92 196.1 1871.7C197.4 1861.48 198.7 1854.5 200 1849.5C201.3 1844.5 202.6 1841.7 203.9 1841.7C205.2 1841.7 206.5 1844.5 207.8 1849.5C209.1 1854.5 210.18 1862.13 211.7 1871.7C213.22 1881.27 215.27 1896.9 216.9 1906.9C218.53 1916.9 219.98 1928.65 221.5 1931.7C223.02 1934.75 224.37 1929.12 226 1925.2C227.63 1921.28 229.33 1912.77 231.3 1908.2C233.27 1903.63 235.2 1901.5 237.8 1897.8C240.4 1894.1 243.65 1890.13 246.9 1886C250.15 1881.87 253.38 1877.12 257.3 1873C261.22 1868.88 265.83 1865.97 270.4 1861.3C274.97 1856.63 281.23 1846.75 284.7 1845C288.17 1843.25 289.02 1847 291.2 1850.8C293.38 1854.6 295.83 1861.48 297.8 1867.8C299.77 1874.12 301.05 1883.17 303 1888.7C304.95 1894.23 306.47 1900.35 309.5 1901C312.53 1901.65 318.17 1892.92 321.2 1892.6C324.23 1892.28 325.3 1895.85 327.7 1899.1C330.1 1902.35 332.55 1909.38 335.6 1912.1C338.65 1914.82 343.18 1913.22 346 1915.4C348.82 1917.58 349.9 1919.23 352.5 1925.2C355.1 1931.17 359.52 1947.08 361.6 1951.2C363.68 1955.32 363.1 1955.67 365 1949.9C366.9 1944.13 370.33 1927.7 373 1916.6C375.67 1905.5 378.57 1893.73 381 1883.3C383.43 1872.87 385.6 1862.88 387.6 1854C389.6 1845.12 391.33 1835.23 393 1830C394.67 1824.77 396.05 1822.83 397.6 1822.6C399.15 1822.37 400.85 1824.7 402.3 1828.6C403.75 1832.5 404.85 1840.43 406.3 1846C407.75 1851.57 409.45 1860.23 411 1862C412.55 1863.77 413.93 1860.6 415.6 1856.6C417.27 1852.6 419.22 1842.43 421 1838C422.78 1833.57 424.08 1831.78 426.3 1830C428.52 1828.22 431.2 1829.2 434.3 1827.3C437.4 1825.4 440.9 1818.6 444.9 1818.6C448.9 1818.6 454.3 1826.63 458.3 1827.3C462.3 1827.97 465.8 1822.38 468.9 1822.6C472 1822.82 474.68 1826.27 476.9 1828.6C479.12 1830.93 479.75 1833.7 482.2 1836.6C484.65 1839.5 488.93 1842.22 491.6 1846C494.27 1849.78 495.77 1854.63 498.2 1859.3C500.63 1863.97 503.75 1873.12 506.2 1874C508.65 1874.88 510.68 1869.27 512.9 1864.6C515.12 1859.93 517.07 1850.67 519.5 1846C521.93 1841.33 524.6 1839.05 527.5 1836.6C530.4 1834.15 534 1830.85 536.9 1831.3C539.8 1831.75 542.47 1834.63 544.9 1839.3C547.33 1843.97 549.52 1852.42 551.5 1859.3C553.48 1866.18 554.58 1875.72 556.8 1880.6C559.02 1885.48 562.13 1886.93 564.8 1888.6C567.47 1890.27 569.68 1890.6 572.8 1890.6C575.92 1890.6 580.38 1888.05 583.5 1888.6C586.62 1889.15 588.55 1890.32 591.5 1893.9C594.45 1897.48 598.28 1906.62 601.2 1910.1C604.12 1913.58 606.4 1914.8 609 1914.8C611.6 1914.8 614.45 1913.75 616.8 1910.1C619.15 1906.45 620.75 1898.62 623.1 1892.9C625.45 1887.18 628.32 1879.95 630.9 1875.8C633.48 1871.65 635.75 1870.47 638.6 1868C641.45 1865.53 645.13 1863.08 648 1861C650.87 1858.92 653.47 1859.02 655.8 1855.5C658.13 1851.98 659.92 1844.18 662 1839.9C664.08 1835.62 666.48 1831.62 668.3 1829.8C670.12 1827.98 670.83 1827.83 672.9 1829C674.97 1830.17 678.1 1832.9 680.7 1836.8C683.3 1840.7 685.9 1846.95 688.5 1852.4C691.1 1857.85 693.18 1864.95 696.3 1869.5C699.42 1874.05 704.33 1877.93 707.2 1879.7C710.07 1881.47 710.12 1881.4 713.5 1880.1C716.88 1878.8 722.83 1874.83 727.5 1871.9C732.17 1868.97 737.6 1863.55 741.5 1862.5C745.4 1861.45 748.03 1866.5 750.9 1865.6C753.77 1864.7 756.23 1859.43 758.7 1857.1C761.17 1854.77 763.37 1851.35 765.7 1851.6C768.03 1851.85 769.97 1853.27 772.7 1858.6C775.43 1863.93 778.98 1878.13 782.1 1883.6C785.22 1889.07 788.03 1890.23 791.4 1891.4C794.77 1892.57 797.62 1892.68 802.3 1890.6C806.98 1888.52 815.08 1879.82 819.5 1878.9C823.92 1877.98 825.17 1880.42 828.8 1885.1C832.43 1889.78 836.62 1903.1 841.3 1907C845.98 1910.9 852.75 1908.38 856.9 1908.5C861.05 1908.62 864.65 1907.83 866.2 1907.7" fill="none" stroke="#000080" stroke-width="4.6" stroke-linejoin="round" stroke-linecap="round"/><text class="t" font-size="37.42" x="103.8" y="2073.92" text-anchor="middle">0</text><text class="t" font-size="37.42" x="199.3" y="2073.92" text-anchor="middle">2</text><text class="t" font-size="37.42" x="294.8" y="2073.92" text-anchor="middle">4</text><text class="t" font-size="37.42" x="390.3" y="2073.92" text-anchor="middle">6</text><text class="t" font-size="37.42" x="485.8" y="2073.92" text-anchor="middle">8</text><text class="t" font-size="37.42" x="581.3" y="2073.92" text-anchor="middle">10</text><text class="t" font-size="37.42" x="676.8" y="2073.92" text-anchor="middle">12</text><text class="t" font-size="37.42" x="772.3" y="2073.92" text-anchor="middle">14</text><text class="t" font-size="37.42" x="867.8" y="2073.92" text-anchor="middle">16</text><text class="t" font-size="37.42" x="89.36" y="2043.33" text-anchor="end">0</text><text class="t" font-size="37.42" x="89.36" y="1931.59" text-anchor="end">2</text><text class="t" font-size="37.42" x="89.36" y="1819.85" text-anchor="end">4</text><text class="t" font-size="37.42" x="89.36" y="1708.11" text-anchor="end">6</text><text class="t" font-size="37.42" x="89.36" y="1596.37" text-anchor="end">8</text><text class="t" font-size="37.42" x="89.36" y="1484.63" text-anchor="end">10</text><text class="t" font-size="38.39" x="296.06" y="2122.67">Photon Energy (eV)</text><line x1="562.73" y1="1539.92" x2="650.84" y2="1539.92" stroke="#FF0000" stroke-width="4.6" stroke-linecap="round"/><line x1="562.73" y1="1598.08" x2="650.84" y2="1598.08" stroke="#000080" stroke-width="4.6" stroke-linecap="round"/><text class="t" font-size="47.05" y="1553.71"><tspan x="689.23">E</tspan><tspan x="731.04" font-family="'DejaVu Sans', sans-serif" class="n" font-size="42.77">⊥</tspan><tspan x="776.7">C</tspan></text><text class="t" font-size="47.05" y="1611.88"><tspan x="689.23">E</tspan><tspan x="734.41" class="n" stroke="#000" stroke-width="0.9">|</tspan><tspan x="747.99" class="n" stroke="#000" stroke-width="0.9">|</tspan><tspan x="771.56">C</tspan></text><text class="t" font-size="49.19" x="117.3" y="1538.44">(e)</text><text class="t" font-size="49.19" x="499.38" y="1764.7">PdS<tspan dy="10.91">2</tspan></text><text transform="translate(50.7 1966) rotate(-90)"><tspan class="s" font-weight="bold" font-size="66" x="-1.4" y="0">I</tspan><tspan class="s" font-weight="normal" font-size="66.5" x="21.7" y="0">(</tspan><tspan class="s" font-weight="normal" font-size="66.5" x="43.3" y="0" stroke="#000" stroke-width="1.3">ω</tspan><tspan class="s" font-weight="normal" font-size="66.5" x="87.3" y="0">)</tspan><tspan class="t" font-weight="bold" font-size="48.5" x="124.2" y="0">x</tspan><tspan class="t" font-weight="bold" font-size="48.5" x="165.6" y="0">10</tspan><tspan class="t" font-weight="bold" font-size="28" x="220.4" y="-24.8">5</tspan><tspan class="t" font-weight="bold" font-size="48.5" x="250.6" y="0">(</tspan><tspan class="t" font-weight="bold" font-size="48.5" x="266.3" y="0">C</tspan><tspan class="t" font-weight="bold" font-size="48.5" x="301.8" y="0">m</tspan><tspan class="t" font-weight="bold" font-size="30" x="346.2" y="-24.8">-</tspan><tspan class="t" font-weight="bold" font-size="30" x="355.6" y="-24.8">1</tspan><tspan class="t" font-weight="bold" font-size="48.5" x="374.3" y="0">)</tspan></text></g>
<g id="panel-f"><rect x="1098.3" y="1473.3" width="79.1" height="558.7" fill="#FFB2B2"/><rect x="1177.4" y="1473.3" width="32.2" height="558.7" fill="#80FF80"/><text class="s" font-weight="bold" font-size="30.23" transform="translate(1145.2 1738.7) rotate(-90)">Visible region</text><text class="s" font-weight="bold" font-size="30.23" transform="translate(1205.4 1765.8) rotate(-90)">Near UV region</text><path d="M1117.17 2032V2020.23M1212.75 2032V2020.23M1308.33 2032V2020.23M1403.9 2032V2020.23M1499.47 2032V2020.23M1595.05 2032V2020.23M1690.62 2032V2020.23M1021.6 1920.26H1033.37M1786.2 1920.26H1774.43M1021.6 1808.52H1033.37M1786.2 1808.52H1774.43M1021.6 1696.78H1033.37M1786.2 1696.78H1774.43M1021.6 1585.04H1033.37M1786.2 1585.04H1774.43" stroke="#000" stroke-width="5.03" stroke-linecap="round" fill="none"/><rect x="1021.6" y="1473.3" width="764.6" height="558.7" fill="none" stroke="#000" stroke-width="5.67"/><path d="M1082.2 2031C1083.5 2030.02 1087.62 2028.68 1090 2025.1C1092.38 2021.52 1094.33 2015.58 1096.5 2009.5C1098.67 2003.42 1100.83 1995.57 1103 1988.6C1105.17 1981.63 1107.32 1974.22 1109.5 1967.7C1111.68 1961.18 1113.92 1954.7 1116.1 1949.5C1118.28 1944.3 1120.43 1937.58 1122.6 1936.5C1124.77 1935.42 1126.93 1940.62 1129.1 1943C1131.27 1945.38 1133.65 1950.58 1135.6 1950.8C1137.55 1951.02 1138.83 1949.3 1140.8 1944.3C1142.77 1939.3 1145.22 1928.63 1147.4 1920.8C1149.58 1912.97 1151.95 1903.17 1153.9 1897.3C1155.85 1891.43 1157.15 1886.25 1159.1 1885.6C1161.05 1884.95 1163.43 1890.68 1165.6 1893.4C1167.77 1896.12 1169.7 1900.15 1172.1 1901.9C1174.5 1903.65 1177.38 1903.35 1180 1903.9C1182.62 1904.45 1185.42 1903.9 1187.8 1905.2C1190.18 1906.5 1192.35 1908.67 1194.3 1911.7C1196.25 1914.73 1197.77 1919.05 1199.5 1923.4C1201.23 1927.75 1202.75 1934.32 1204.7 1937.8C1206.65 1941.28 1207.93 1942.25 1211.2 1944.3C1214.47 1946.35 1220.17 1950.32 1224.3 1950.1C1228.43 1949.88 1232.75 1942.67 1236 1943C1239.25 1943.33 1241.18 1947.98 1243.8 1952.1C1246.42 1956.22 1249.08 1964.12 1251.7 1967.7C1254.32 1971.28 1257.12 1974.03 1259.5 1973.6C1261.88 1973.17 1263.83 1970.42 1266 1965.1C1268.17 1959.78 1270.33 1948.65 1272.5 1941.7C1274.67 1934.75 1277.03 1928.08 1279 1923.4C1280.97 1918.72 1281.93 1916.43 1284.3 1913.6C1286.67 1910.77 1290.82 1910.78 1293.2 1906.4C1295.58 1902.02 1296.8 1895.23 1298.6 1887.3C1300.4 1879.37 1302.18 1866.28 1304 1858.8C1305.82 1851.32 1307.45 1846.48 1309.5 1842.4C1311.55 1838.32 1314.27 1836.78 1316.3 1834.3C1318.33 1831.82 1319.88 1831.82 1321.7 1827.5C1323.52 1823.18 1325.38 1814.98 1327.2 1808.4C1329.02 1801.82 1330.57 1795.25 1332.6 1788C1334.63 1780.75 1337.35 1771.7 1339.4 1764.9C1341.45 1758.1 1343.08 1751.73 1344.9 1747.2C1346.72 1742.67 1348.6 1739.85 1350.3 1737.7C1352 1735.55 1353.28 1734.08 1355.1 1734.3C1356.92 1734.52 1359.28 1736.17 1361.2 1739C1363.12 1741.83 1364.78 1745.4 1366.6 1751.3C1368.42 1757.2 1370.28 1766.47 1372.1 1774.4C1373.92 1782.33 1375.68 1792.77 1377.5 1798.9C1379.32 1805.03 1380.95 1807.12 1383 1811.2C1385.05 1815.28 1387.53 1818.2 1389.8 1823.4C1392.07 1828.6 1394.33 1835.82 1396.6 1842.4C1398.87 1848.98 1401.13 1857.45 1403.4 1862.9C1405.67 1868.35 1408.17 1869.43 1410.2 1875.1C1412.23 1880.77 1413.78 1889.87 1415.6 1896.9C1417.42 1903.93 1419.28 1911.18 1421.1 1917.3C1422.92 1923.42 1424.02 1931.12 1426.5 1933.6C1428.98 1936.08 1432.83 1931.97 1436 1932.2C1439.17 1932.43 1442.32 1934.32 1445.5 1935C1448.68 1935.68 1452.37 1937.67 1455.1 1936.3C1457.83 1934.93 1459.42 1932.23 1461.9 1926.8C1464.38 1921.37 1467.73 1910.28 1470 1903.7C1472.27 1897.12 1473.8 1891.17 1475.5 1887.3C1477.2 1883.43 1478.38 1880.03 1480.2 1880.5C1482.02 1880.97 1484.23 1885.1 1486.4 1890.1C1488.57 1895.1 1490.93 1904.38 1493.2 1910.5C1495.47 1916.62 1497.73 1923.52 1500 1926.8C1502.27 1930.08 1504.08 1931.33 1506.8 1930.2C1509.52 1929.07 1512.57 1926.8 1516.3 1920C1520.03 1913.2 1525.02 1896.8 1529.2 1889.4C1533.38 1882 1538.08 1876.12 1541.4 1875.6C1544.72 1875.08 1546.28 1880.43 1549.1 1886.3C1551.92 1892.17 1555.37 1904.68 1558.3 1910.8C1561.23 1916.92 1564.15 1922.23 1566.7 1923C1569.25 1923.77 1571.18 1922.03 1573.6 1915.4C1576.02 1908.77 1579.17 1892.63 1581.2 1883.2C1583.23 1873.77 1584.02 1864.28 1585.8 1858.8C1587.58 1853.32 1589.6 1849.8 1591.9 1850.3C1594.2 1850.8 1596.92 1858.1 1599.6 1861.8C1602.28 1865.5 1605.45 1872.5 1608 1872.5C1610.55 1872.5 1612.73 1868.68 1614.9 1861.8C1617.07 1854.92 1618.97 1841.4 1621 1831.2C1623.03 1821 1624.8 1808 1627.1 1800.6C1629.4 1793.2 1632.5 1787.32 1634.8 1786.8C1637.1 1786.28 1638.87 1790.62 1640.9 1797.5C1642.93 1804.38 1644.95 1819.93 1647 1828.1C1649.05 1836.27 1650.9 1844.45 1653.2 1846.5C1655.5 1848.55 1658.25 1843.72 1660.8 1840.4C1663.35 1837.08 1665.68 1830.68 1668.5 1826.6C1671.32 1822.52 1674.9 1819.85 1677.7 1815.9C1680.5 1811.95 1683.02 1806.08 1685.3 1802.9C1687.58 1799.72 1688.33 1796.93 1691.4 1796.8C1694.47 1796.67 1700.38 1799.68 1703.7 1802.1C1707.02 1804.52 1708.75 1806.7 1711.3 1811.3C1713.85 1815.9 1716.45 1825.87 1719 1829.7C1721.55 1833.53 1722.77 1834.93 1726.6 1834.3C1730.43 1833.67 1737.4 1825.9 1742 1825.9C1746.6 1825.9 1749.37 1831.25 1754.2 1834.3C1759.03 1837.35 1765.77 1844.72 1771 1844.2C1776.23 1843.68 1783.17 1833.37 1785.6 1831.2" fill="none" stroke="#FF0000" stroke-width="4.6" stroke-linejoin="round" stroke-linecap="round"/><path d="M1024 2031C1032.82 2031 1066.55 2031.98 1076.9 2031C1087.25 2030.02 1083.48 2028.25 1086.1 2025.1C1088.72 2021.95 1090.43 2018.18 1092.6 2012.1C1094.77 2006.02 1096.93 1997.95 1099.1 1988.6C1101.27 1979.25 1103.42 1966.43 1105.6 1956C1107.78 1945.57 1110.23 1936.22 1112.2 1926C1114.17 1915.78 1115.45 1902.52 1117.4 1894.7C1119.35 1886.88 1121.95 1880.4 1123.9 1879.1C1125.85 1877.8 1127.15 1883.2 1129.1 1886.9C1131.05 1890.6 1133.65 1900.65 1135.6 1901.3C1137.55 1901.95 1139.05 1897.55 1140.8 1890.8C1142.55 1884.05 1144.35 1870.57 1146.1 1860.8C1147.85 1851.03 1149.57 1840.88 1151.3 1832.2C1153.03 1823.52 1154.88 1813.92 1156.5 1808.7C1158.12 1803.48 1159.27 1801.02 1161 1800.9C1162.73 1800.78 1165.05 1805.83 1166.9 1808C1168.75 1810.17 1169.92 1813.57 1172.1 1813.9C1174.28 1814.23 1177.28 1811.63 1180 1810C1182.72 1808.37 1185.8 1803.88 1188.4 1804.1C1191 1804.32 1193.32 1806.62 1195.6 1811.3C1197.88 1815.98 1200.15 1825.25 1202.1 1832.2C1204.05 1839.15 1205.35 1847.8 1207.3 1853C1209.25 1858.2 1210.75 1859.27 1213.8 1863.4C1216.85 1867.53 1221.57 1877.58 1225.6 1877.8C1229.63 1878.02 1234.97 1865.78 1238 1864.7C1241.03 1863.62 1241.73 1865.87 1243.8 1871.3C1245.87 1876.73 1248.22 1889.05 1250.4 1897.3C1252.58 1905.55 1254.95 1914.93 1256.9 1920.8C1258.85 1926.67 1260.15 1932.5 1262.1 1932.5C1264.05 1932.5 1266.22 1925.35 1268.6 1920.8C1270.98 1916.25 1274.23 1908.02 1276.4 1905.2C1278.57 1902.38 1279.27 1904.83 1281.6 1903.9C1283.93 1902.97 1288.02 1903.03 1290.4 1899.6C1292.78 1896.17 1294.3 1890.57 1295.9 1883.3C1297.5 1876.03 1298.65 1864.62 1300 1856C1301.35 1847.38 1302.65 1838.4 1304 1831.6C1305.35 1824.8 1306.73 1818.83 1308.1 1815.2C1309.47 1811.57 1310.38 1809.8 1312.2 1809.8C1314.02 1809.8 1316.73 1816.1 1319 1815.2C1321.27 1814.3 1323.75 1807.68 1325.8 1804.4C1327.85 1801.12 1329.03 1797.55 1331.3 1795.5C1333.57 1793.45 1337.13 1794.48 1339.4 1792.1C1341.67 1789.72 1343.08 1785.5 1344.9 1781.2C1346.72 1776.9 1348.72 1769.7 1350.3 1766.3C1351.88 1762.9 1352.58 1760.35 1354.4 1760.8C1356.22 1761.25 1358.93 1764.92 1361.2 1769C1363.47 1773.08 1365.97 1778.73 1368 1785.3C1370.03 1791.87 1371.58 1800.02 1373.4 1808.4C1375.22 1816.78 1377.08 1827.67 1378.9 1835.6C1380.72 1843.53 1382.27 1849.87 1384.3 1856C1386.33 1862.13 1388.6 1868.53 1391.1 1872.4C1393.6 1876.27 1397.03 1878.75 1399.3 1879.2C1401.57 1879.65 1402.67 1876.23 1404.7 1875.1C1406.73 1873.97 1409.45 1871.5 1411.5 1872.4C1413.55 1873.3 1415.4 1876.65 1417 1880.5C1418.6 1884.35 1419.75 1892.08 1421.1 1895.5C1422.45 1898.92 1423.52 1901.9 1425.1 1901C1426.68 1900.1 1428.67 1893.17 1430.6 1890.1C1432.53 1887.03 1434.67 1882.6 1436.7 1882.6C1438.73 1882.6 1440.42 1885.45 1442.8 1890.1C1445.18 1894.75 1448.28 1904.83 1451 1910.5C1453.72 1916.17 1456.6 1923.65 1459.1 1924.1C1461.6 1924.55 1463.72 1919.33 1466 1913.2C1468.28 1907.07 1470.08 1894.1 1472.8 1887.3C1475.52 1880.5 1479.58 1873.53 1482.3 1872.4C1485.02 1871.27 1486.62 1875.73 1489.1 1880.5C1491.58 1885.27 1494.48 1894.65 1497.2 1901C1499.92 1907.35 1502.67 1914.42 1505.4 1918.6C1508.13 1922.78 1511.1 1926.77 1513.6 1926.1C1516.1 1925.43 1518.05 1918.43 1520.4 1914.6C1522.75 1910.77 1525.22 1908.83 1527.7 1903.1C1530.18 1897.37 1533.02 1886.83 1535.3 1880.2C1537.58 1873.57 1539.62 1866.87 1541.4 1863.3C1543.18 1859.73 1544.22 1858.03 1546 1858.8C1547.78 1859.57 1549.8 1862.55 1552.1 1867.9C1554.4 1873.25 1556.98 1884.65 1559.8 1890.9C1562.62 1897.15 1566.2 1904.63 1569 1905.4C1571.8 1906.17 1574.3 1901.48 1576.6 1895.5C1578.9 1889.52 1580.25 1876.65 1582.8 1869.5C1585.35 1862.35 1588.85 1854.38 1591.9 1852.6C1594.95 1850.82 1598.03 1856.63 1601.1 1858.8C1604.17 1860.97 1607.23 1865.87 1610.3 1865.6C1613.37 1865.33 1616.18 1860.63 1619.5 1857.2C1622.82 1853.77 1627.13 1845.77 1630.2 1845C1633.27 1844.23 1635.6 1847.75 1637.9 1852.6C1640.2 1857.45 1641.72 1868.23 1644 1874.1C1646.28 1879.97 1649.05 1887.3 1651.6 1887.8C1654.15 1888.3 1656.75 1881.18 1659.3 1877.1C1661.85 1873.02 1664.35 1866.35 1666.9 1863.3C1669.45 1860.25 1670.77 1858.8 1674.6 1858.8C1678.43 1858.8 1685.05 1863.3 1689.9 1863.3C1694.75 1863.3 1700.13 1858.03 1703.7 1858.8C1707.27 1859.57 1708.75 1862.8 1711.3 1867.9C1713.85 1873 1716.45 1884.8 1719 1889.4C1721.55 1894 1723.28 1895.88 1726.6 1895.5C1729.92 1895.12 1734.82 1887.23 1738.9 1887.1C1742.98 1886.97 1747.53 1893.18 1751.1 1894.7C1754.67 1896.22 1756.98 1895.05 1760.3 1896.2C1763.62 1897.35 1766.78 1900.83 1771 1901.6C1775.22 1902.37 1783.17 1900.93 1785.6 1900.8" fill="none" stroke="#000080" stroke-width="4.6" stroke-linejoin="round" stroke-linecap="round"/><text class="t" font-size="37.45" x="1021.6" y="2073.95" text-anchor="middle">0</text><text class="t" font-size="37.45" x="1117.17" y="2073.95" text-anchor="middle">2</text><text class="t" font-size="37.45" x="1212.75" y="2073.95" text-anchor="middle">4</text><text class="t" font-size="37.45" x="1308.33" y="2073.95" text-anchor="middle">6</text><text class="t" font-size="37.45" x="1403.9" y="2073.95" text-anchor="middle">8</text><text class="t" font-size="37.45" x="1499.47" y="2073.95" text-anchor="middle">10</text><text class="t" font-size="37.45" x="1595.05" y="2073.95" text-anchor="middle">12</text><text class="t" font-size="37.45" x="1690.62" y="2073.95" text-anchor="middle">14</text><text class="t" font-size="37.45" x="1786.2" y="2073.95" text-anchor="middle">16</text><text class="t" font-size="37.45" x="1007.15" y="2043.34" text-anchor="end">0</text><text class="t" font-size="37.45" x="1007.15" y="1931.6" text-anchor="end">2</text><text class="t" font-size="37.45" x="1007.15" y="1819.86" text-anchor="end">4</text><text class="t" font-size="37.45" x="1007.15" y="1708.12" text-anchor="end">6</text><text class="t" font-size="37.45" x="1007.15" y="1596.38" text-anchor="end">8</text><text class="t" font-size="37.45" x="1007.15" y="1484.64" text-anchor="end">10</text><text class="t" font-size="38.42" x="1214.01" y="2122.75">Photon Energy (eV)</text><line x1="1480.9" y1="1539.97" x2="1569.07" y2="1539.97" stroke="#FF0000" stroke-width="4.6" stroke-linecap="round"/><line x1="1480.9" y1="1598.18" x2="1569.07" y2="1598.18" stroke="#000080" stroke-width="4.6" stroke-linecap="round"/><text class="t" font-size="47.09" y="1553.77"><tspan x="1607.49">E</tspan><tspan x="1649.33" font-family="'DejaVu Sans', sans-serif" class="n" font-size="42.8">⊥</tspan><tspan x="1695.03">C</tspan></text><text class="t" font-size="47.09" y="1611.99"><tspan x="1607.49">E</tspan><tspan x="1652.7" class="n" stroke="#000" stroke-width="0.9">|</tspan><tspan x="1666.29" class="n" stroke="#000" stroke-width="0.9">|</tspan><tspan x="1689.89">C</tspan></text><text class="t" font-size="49.23" x="1033.9" y="1539.57">(f)</text><text class="t" font-size="49.23" x="1387.48" y="1685.6">PdSe<tspan dy="10.92">2</tspan></text><text transform="translate(964.7 1980.8) rotate(-90)"><tspan class="s" font-weight="bold" font-size="66" x="-1.4" y="0">I</tspan><tspan class="s" font-weight="normal" font-size="66.5" x="21.7" y="0">(</tspan><tspan class="s" font-weight="normal" font-size="66.5" x="43.3" y="0" stroke="#000" stroke-width="1.3">ω</tspan><tspan class="s" font-weight="normal" font-size="66.5" x="87.3" y="0">)</tspan><tspan class="t" font-weight="bold" font-size="48.5" x="124.2" y="0">x</tspan><tspan class="t" font-weight="bold" font-size="48.5" x="165.6" y="0">10</tspan><tspan class="t" font-weight="bold" font-size="28" x="220.4" y="-24.8">5</tspan><tspan class="t" font-weight="bold" font-size="48.5" x="250.6" y="0">(</tspan><tspan class="t" font-weight="bold" font-size="48.5" x="266.3" y="0">C</tspan><tspan class="t" font-weight="bold" font-size="48.5" x="301.8" y="0">m</tspan><tspan class="t" font-weight="bold" font-size="30" x="346.2" y="-24.8">-</tspan><tspan class="t" font-weight="bold" font-size="30" x="355.6" y="-24.8">1</tspan><tspan class="t" font-weight="bold" font-size="48.5" x="374.3" y="0">)</tspan></text></g>
</svg></body></html>
